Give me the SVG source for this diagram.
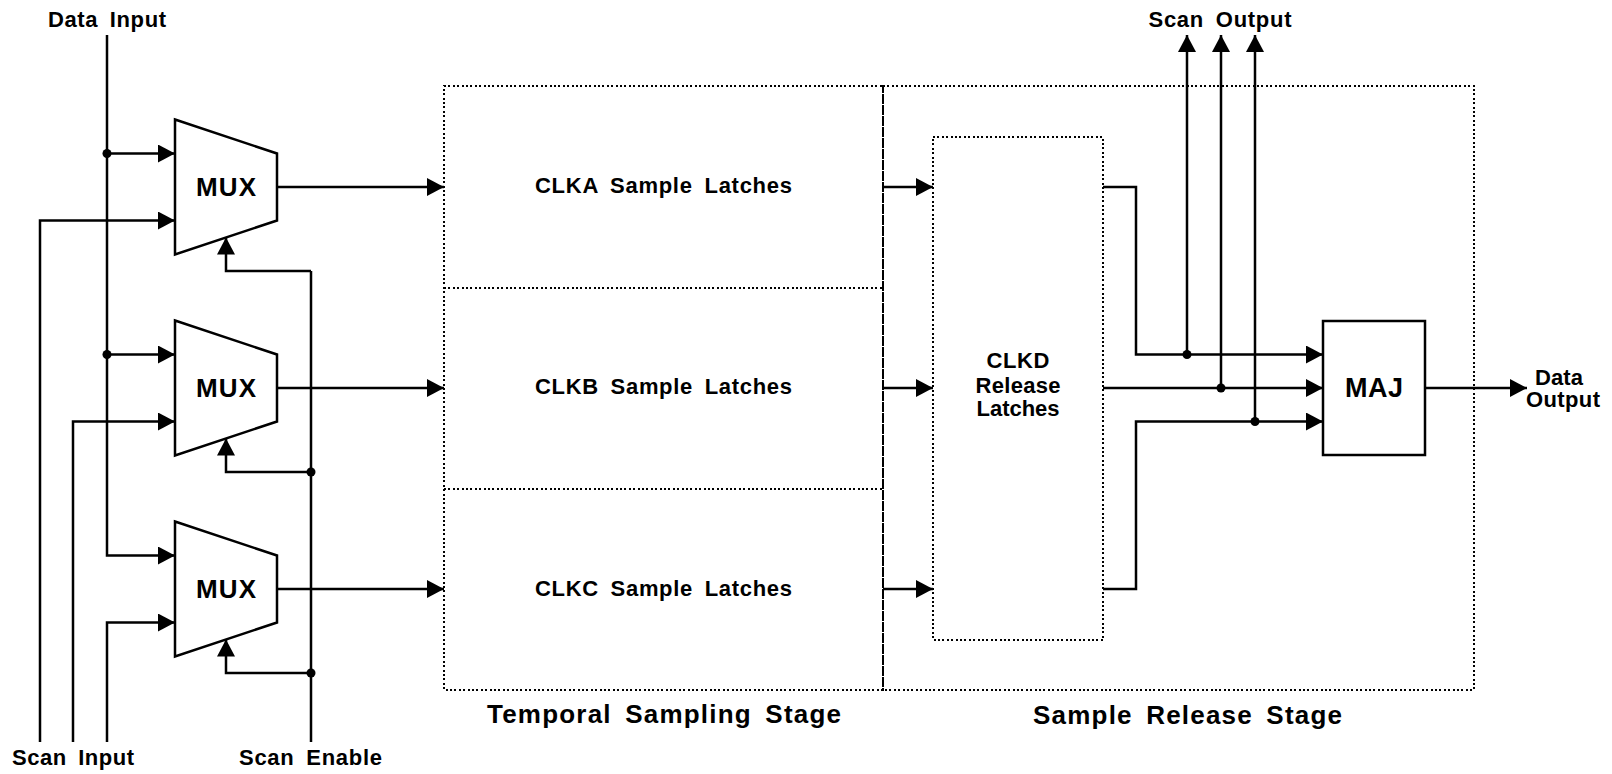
<svg xmlns="http://www.w3.org/2000/svg" width="1612" height="774" viewBox="0 0 1612 774">
  <style>
    .wire { fill: none; stroke: #000; stroke-width: 2.5; stroke-linejoin: miter; }
    .arr { marker-end: url(#arrow); }
    .dot { fill: #000; }
    .dotted { fill: none; stroke: #000; stroke-width: 2.2; stroke-dasharray: 2 2.4; shape-rendering: crispEdges; }
    .shape { fill: #fff; stroke: #000; stroke-width: 2.5; }
    text { font-family: "Liberation Sans", Arial, sans-serif; font-weight: bold; fill: #000; text-anchor: middle; word-spacing: 5px; }
    .io { font-size: 22px; }
    .blk { font-size: 22px; }
    .rel { font-size: 22px; }
    .stage { font-size: 26px; }
    .mux { font-size: 26px; }
  </style>
  <defs>
    <marker id="arrow" viewBox="0 0 17 18" refX="17" refY="9" markerWidth="17" markerHeight="18" markerUnits="userSpaceOnUse" orient="auto">
      <path d="M0,0 L17,9 L0,18 Z" fill="#000"/>
    </marker>
  </defs>
  <rect width="1612" height="774" fill="#fff"/>

  <!-- stage frames -->
  <g id="temporal-sampling-stage">
    <rect class="dotted" x="444" y="86" width="439" height="604"/>
    <line class="dotted" x1="444" y1="288" x2="883" y2="288"/>
    <line class="dotted" x1="444" y1="489" x2="883" y2="489"/>
    <text class="stage" x="664" y="723" textLength="354" lengthAdjust="spacing">Temporal Sampling Stage</text>
  </g>
  <g id="sample-release-stage">
    <rect class="dotted" x="883" y="86" width="591" height="604"/>
    <text class="stage" x="1187.5" y="724" textLength="309" lengthAdjust="spacing">Sample Release Stage</text>
  </g>

  <g id="clka-latches">
    <text class="blk" x="663.5" y="193" textLength="257" lengthAdjust="spacing">CLKA Sample Latches</text>
  </g>
  <g id="clkb-latches">
    <text class="blk" x="663.5" y="394" textLength="257" lengthAdjust="spacing">CLKB Sample Latches</text>
  </g>
  <g id="clkc-latches">
    <text class="blk" x="663.5" y="596" textLength="257" lengthAdjust="spacing">CLKC Sample Latches</text>
  </g>

  <g id="clkd-latches">
    <rect class="dotted" x="933" y="137" width="170" height="503"/>
    <text class="rel" x="1018" y="368" textLength="63" lengthAdjust="spacing">CLKD</text>
    <text class="rel" x="1018" y="393" textLength="85" lengthAdjust="spacing">Release</text>
    <text class="rel" x="1018" y="416" textLength="83" lengthAdjust="spacing">Latches</text>
  </g>

  <!-- multiplexers -->
  <g id="mux1">
    <path class="shape" d="M175,119.5 L277,153.5 L277,220.5 L175,254.5 Z"/>
    <text class="mux" x="226" y="196" textLength="60" lengthAdjust="spacing">MUX</text>
  </g>
  <g id="mux2">
    <path class="shape" d="M175,320.5 L277,354.5 L277,421.5 L175,455.5 Z"/>
    <text class="mux" x="226" y="397" textLength="60" lengthAdjust="spacing">MUX</text>
  </g>
  <g id="mux3">
    <path class="shape" d="M175,521.5 L277,555.5 L277,622.5 L175,656.5 Z"/>
    <text class="mux" x="226" y="598" textLength="60" lengthAdjust="spacing">MUX</text>
  </g>

  <g id="maj">
    <rect class="shape" x="1323" y="321" width="102" height="134"/>
    <text style="font-size:27px" x="1374" y="397" textLength="58" lengthAdjust="spacing">MAJ</text>
  </g>

  <!-- port labels -->
  <g id="data-input">
    <text class="io" x="107" y="27" textLength="118" lengthAdjust="spacing">Data Input</text>
  </g>
  <g id="scan-input">
    <text class="io" x="73" y="765" textLength="122" lengthAdjust="spacing">Scan Input</text>
  </g>
  <g id="scan-enable">
    <text class="io" x="310.5" y="765" textLength="143" lengthAdjust="spacing">Scan Enable</text>
  </g>
  <g id="scan-output">
    <text class="io" x="1220" y="27" textLength="143" lengthAdjust="spacing">Scan Output</text>
  </g>
  <g id="data-output">
    <text class="io" x="1559" y="385" textLength="48" lengthAdjust="spacing">Data</text>
    <text class="io" x="1563" y="407" textLength="74" lengthAdjust="spacing">Output</text>
  </g>

  <!-- connectors -->
  <g id="connectors">
    <!-- data input bus -->
    <path class="wire arr" d="M107,35 L107,555.5 L175,555.5"/>
    <path class="wire arr" d="M107,153.5 L175,153.5"/>
    <path class="wire arr" d="M107,354.5 L175,354.5"/>
    <!-- scan inputs -->
    <path class="wire arr" d="M40,742 L40,220.5 L175,220.5"/>
    <path class="wire arr" d="M73,742 L73,421.5 L175,421.5"/>
    <path class="wire arr" d="M107,742 L107,622.5 L175,622.5"/>
    <!-- scan enable -->
    <path class="wire" d="M311,742 L311,271"/>
    <path class="wire arr" d="M311,271 L226,271 L226,237.5"/>
    <path class="wire arr" d="M311,472 L226,472 L226,438.5"/>
    <path class="wire arr" d="M311,673 L226,673 L226,639.5"/>
    <!-- mux outputs -->
    <path class="wire arr" d="M277,187 L444,187"/>
    <path class="wire arr" d="M277,388 L444,388"/>
    <path class="wire arr" d="M277,589 L444,589"/>
    <!-- sample to release latches -->
    <path class="wire arr" d="M883,187 L933,187"/>
    <path class="wire arr" d="M883,388 L933,388"/>
    <path class="wire arr" d="M883,589 L933,589"/>
    <!-- release latches to voter -->
    <path class="wire arr" d="M1103,187 L1136,187 L1136,354.5 L1323,354.5"/>
    <path class="wire arr" d="M1103,388 L1323,388"/>
    <path class="wire arr" d="M1103,589 L1136,589 L1136,421.5 L1323,421.5"/>
    <!-- scan outputs -->
    <path class="wire arr" d="M1187,354.5 L1187,35"/>
    <path class="wire arr" d="M1221,388 L1221,35"/>
    <path class="wire arr" d="M1255,421.5 L1255,35"/>
    <!-- data output -->
    <path class="wire arr" d="M1425,388 L1527,388"/>
    <!-- junctions -->
    <circle class="dot" cx="107" cy="153.5" r="4.5"/>
    <circle class="dot" cx="107" cy="354.5" r="4.5"/>
    <circle class="dot" cx="311" cy="472" r="4.5"/>
    <circle class="dot" cx="311" cy="673" r="4.5"/>
    <circle class="dot" cx="1187" cy="354.5" r="4.5"/>
    <circle class="dot" cx="1221" cy="388" r="4.5"/>
    <circle class="dot" cx="1255" cy="421.5" r="4.5"/>
  </g>
</svg>
